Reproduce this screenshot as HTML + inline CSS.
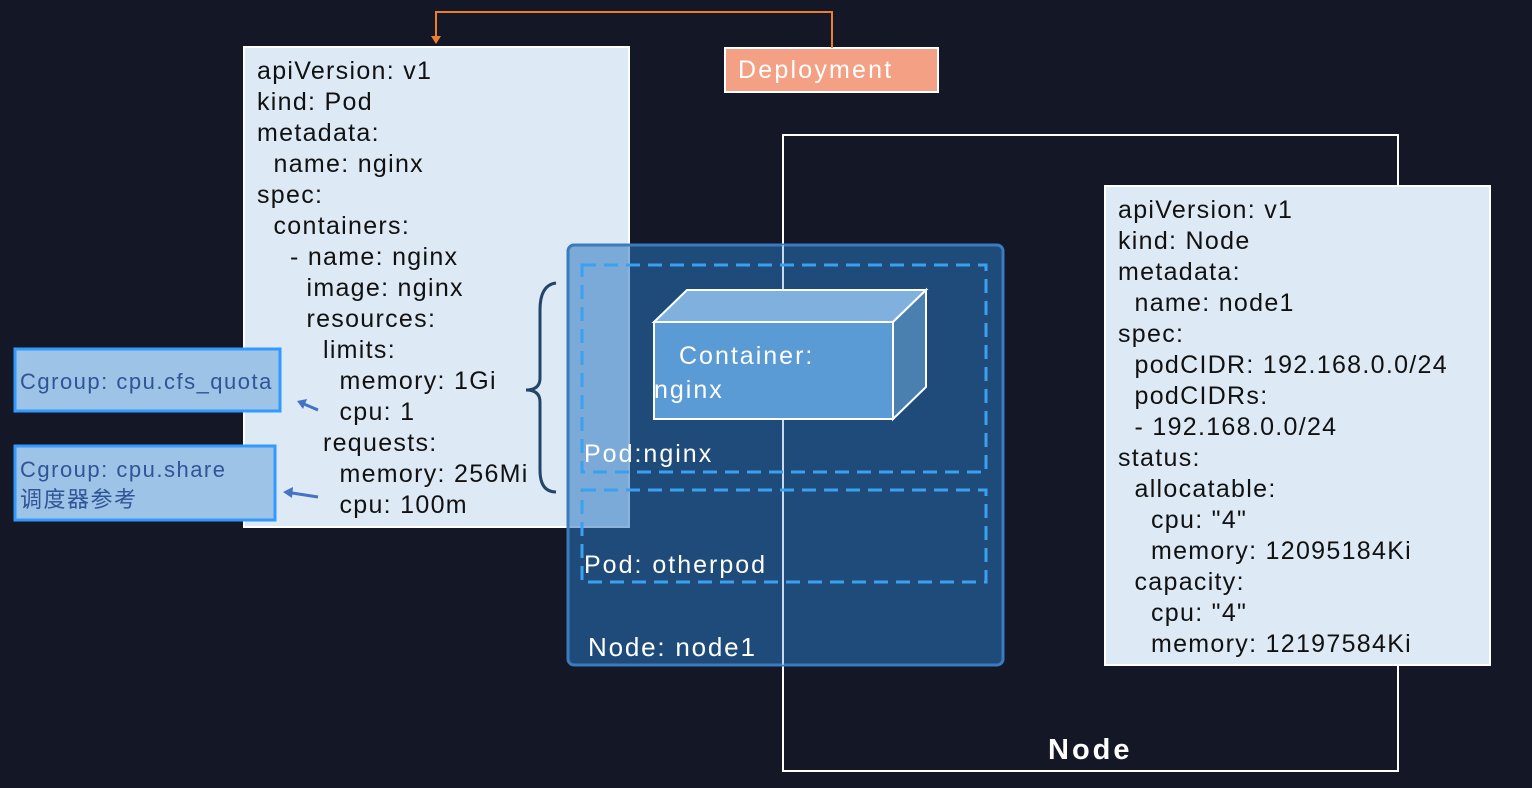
<!DOCTYPE html>
<html><head><meta charset="utf-8"><style>
body{margin:0;width:1532px;height:788px;background:#131726;overflow:hidden;position:relative;font-family:"Liberation Sans","Noto Sans CJK SC",sans-serif}
.t{position:absolute;white-space:pre;font-size:25px;line-height:31px;color:#111;letter-spacing:1.3px}
</style></head><body>
<svg width="1532" height="788" style="position:absolute;left:0;top:0">
<rect x="783" y="135" width="615" height="636" fill="none" stroke="#fff" stroke-width="2"/>
<rect x="244" y="47" width="385" height="480" fill="#dde9f5" stroke="#fff" stroke-width="2"/>
<rect x="1105" y="186" width="385" height="479" fill="#dde9f5" stroke="#fff" stroke-width="2"/>
<rect x="725" y="48" width="213" height="44" fill="#f4a084" stroke="#fff" stroke-width="2"/>
<polyline points="832,48 832,12 436,12 436,40" fill="none" stroke="#ed7d31" stroke-width="2"/>
<polygon points="431,36 441,36 436,44" fill="#ed7d31"/>
<path d="M556,283 Q540,285 540,310 L540,378 Q540,390 526,390 Q540,390 540,402 L540,470 Q540,492 556,492" fill="none" stroke="#24446a" stroke-width="3"/>
<rect x="568" y="245" width="435" height="420" rx="6" fill="rgba(41,118,191,0.55)" stroke="#3a7bc0" stroke-width="3"/>
<line x1="783" y1="245" x2="783" y2="665" stroke="rgba(255,255,255,0.5)" stroke-width="2"/>
<rect x="582" y="265" width="404" height="207" fill="none" stroke="#3aa0f0" stroke-width="3" stroke-dasharray="14,8"/>
<rect x="582" y="490" width="404" height="92" fill="none" stroke="#3aa0f0" stroke-width="3" stroke-dasharray="14,8"/>
<polygon points="654,322 687,290 926,290 893,322" fill="#7fb0de" stroke="#fff" stroke-width="2"/>
<polygon points="893,322 926,290 926,387 893,419" fill="#4a80b0" stroke="#fff" stroke-width="2"/>
<rect x="654" y="322" width="239" height="97" fill="#5b9bd5" stroke="#fff" stroke-width="2"/>
<rect x="15" y="349" width="265" height="62" fill="#9dc3e6" stroke="#3399ff" stroke-width="3"/>
<rect x="15" y="446" width="260" height="74" fill="#9dc3e6" stroke="#3399ff" stroke-width="3"/>
<line x1="318" y1="410" x2="304" y2="404" stroke="#4472c4" stroke-width="3"/>
<polygon points="297,401 307,399 303,409" fill="#4472c4"/>
<line x1="318" y1="497" x2="292" y2="493" stroke="#4472c4" stroke-width="3"/>
<polygon points="283,492 293,487 292,498" fill="#4472c4"/>
</svg>
<div class="t" style="left:257px;top:56px">apiVersion: v1
kind: Pod
metadata:
  name: nginx
spec:
  containers:
    - name: nginx
      image: nginx
      resources:
        limits:
          memory: 1Gi
          cpu: 1
        requests:
          memory: 256Mi
          cpu: 100m</div>
<div class="t" style="left:1118px;top:195px">apiVersion: v1
kind: Node
metadata:
  name: node1
spec:
  podCIDR: 192.168.0.0/24
  podCIDRs:
  - 192.168.0.0/24
status:
  allocatable:
    cpu: "4"
    memory: 12095184Ki
  capacity:
    cpu: "4"
    memory: 12197584Ki</div>
<div class="t" style="left:738px;top:55px;color:#fff;letter-spacing:2.2px">Deployment</div>
<div class="t" style="left:20px;top:366px;color:#2f5597;font-size:22px;letter-spacing:1.5px">Cgroup: cpu.cfs_quota</div>
<div class="t" style="left:20px;top:455px;color:#2f5597;font-size:22px;line-height:30px;letter-spacing:1.5px">Cgroup: cpu.share
调度器参考</div>
<div class="t" style="left:679px;top:339px;color:#fff;font-size:25px;line-height:34px;letter-spacing:2px">Container:</div>
<div class="t" style="left:654px;top:373px;color:#fff;font-size:25px;line-height:34px;letter-spacing:2px">nginx</div>
<div class="t" style="left:584px;top:439px;color:#fff;letter-spacing:2px">Pod:nginx</div>
<div class="t" style="left:584px;top:550px;color:#fff;letter-spacing:2px">Pod: otherpod</div>
<div class="t" style="left:588px;top:632px;color:#fff;font-size:26px;letter-spacing:1.8px">Node: node1</div>
<div class="t" style="left:1048px;top:735px;color:#fff;font-size:29px;font-weight:bold;letter-spacing:3px">Node</div>
</body></html>
